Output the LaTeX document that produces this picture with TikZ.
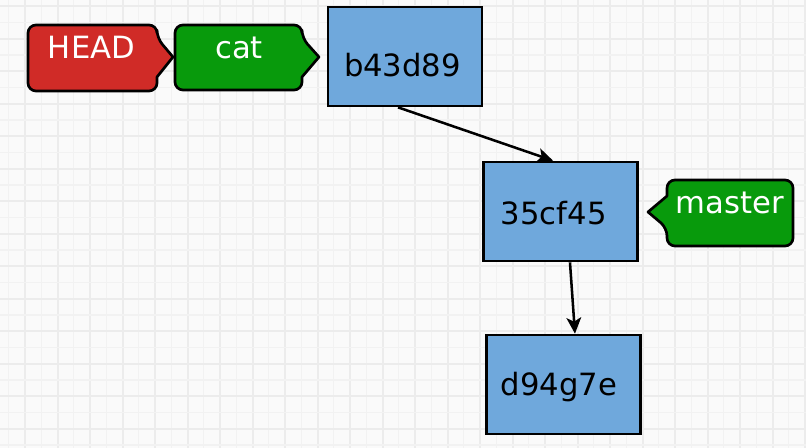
\documentclass[tikz,border=0pt]{standalone}
\usepackage{fontspec}
\setmainfont{DejaVu Sans}
\usetikzlibrary{arrows.meta}
\definecolor{bg}{HTML}{FAFAFA}
\definecolor{gridminor}{HTML}{F2F2F2}
\definecolor{gridmajor}{HTML}{ECECEC}
\definecolor{boxblue}{HTML}{6FA8DC}
\definecolor{tagred}{HTML}{D02B27}
\definecolor{taggreen}{HTML}{089A0C}
\tikzset{
  commit/.style={draw=black, fill=boxblue, line width=2pt,
    minimum width=115.5pt, minimum height=74.25pt, inner sep=0pt},
  hashtext/.style={font=\fontsize{23}{26}\selectfont, text=black, inner sep=0pt},
  tagshape/.style={draw=black, line width=2pt, rounded corners=6pt, line join=round},
  tagtext/.style={font=\fontsize{23}{26}\selectfont, text=white, inner sep=0pt},
  arr/.style={-{Stealth[length=12pt,width=11pt,inset=3pt]}, line width=1.9pt, draw=black}
}
\begin{document}
\begin{tikzpicture}[x=0.75pt,y=-0.75pt]
\useasboundingbox (0,0) rectangle (806,448);
\fill[bg] (0,0) rectangle (806,448);
% grid
\foreach \k in {0,...,25} {
  \draw[gridminor, line width=1.1pt] ({8.75+32.5*\k},0) -- ({8.75+32.5*\k},448);
  \draw[gridmajor, line width=1.5pt] ({-7.5+32.5*\k},0) -- ({-7.5+32.5*\k},448);
}
\foreach \k in {-1,...,14} {
  \draw[gridminor, line width=1.1pt] (0,{22.5+32.5*\k}) -- (806,{22.5+32.5*\k});
  \draw[gridmajor, line width=1.5pt] (0,{6.2+32.5*\k}) -- (806,{6.2+32.5*\k});
}
% commits
\node[commit] (b1) at (405,56.5) {};
\node[commit] (b2) at (560.5,211.5) {};
\node[commit] (b3) at (563.5,384.5) {};
\node[hashtext] (t1) at (402.5,65) {b43d89};
\node[hashtext] (t2) at (553.7,213) {35cf45};
\node[hashtext] (t3) at (559,387) {d94g7e};
% arrows
\draw[arr] ([xshift=-5.25pt]b1.south) -- ([xshift=-5.6pt]b2.north);
\draw[arr] ([xshift=7.1pt]b2.south) -- ([xshift=8.6pt]b3.north);
% tags
\draw[tagshape, fill=tagred] (28,25) -- (157,25) -- (157,38) [sharp corners] -- (173,57) -- (157,77) [rounded corners=6pt] -- (157,91) -- (28,91) -- cycle;
\node[tagtext] (head) at (91.5,47) {HEAD};
\draw[tagshape, fill=taggreen] (175,25) -- (302,25) -- (302,38) [sharp corners] -- (319,57) -- (302,77) [rounded corners=6pt] -- (302,90) -- (175,90) -- cycle;
\node[tagtext] (cat) at (239,48) {cat};
\draw[tagshape, fill=taggreen] (793,180) -- (793,246) -- (667,246) -- (667,228) [sharp corners] -- (648,212) -- (667,196) [rounded corners=6pt] -- (667,180) -- cycle;
\node[tagtext] (master) at (730,203) {master};
\end{tikzpicture}
\end{document}
